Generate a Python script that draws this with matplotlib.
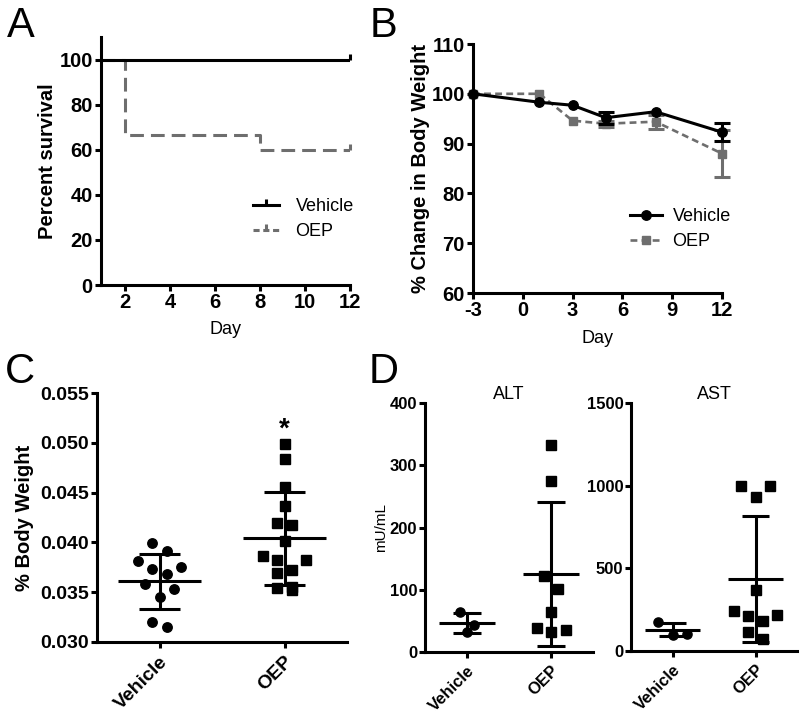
import numpy as np
import matplotlib
matplotlib.use("Agg")
import matplotlib.pyplot as plt
from matplotlib.path import Path
from matplotlib.lines import Line2D

plt.rcParams['font.family'] = ['Liberation Sans', 'DejaVu Sans']
plt.rcParams['axes.unicode_minus'] = False

# ---------------- data ----------------
# Panel A: survival (step, post)
surv_days_vehicle = [0, 12]
surv_vehicle = [100, 100]
surv_days_oep = [0, 2, 8, 12]
surv_oep = [100, 66.7, 60, 60]

# Panel B: body weight change
bw_days = [-3, 1, 3, 5, 8, 12]
bw_vehicle = [100, 98.3, 97.7, 95.2, 96.4, 92.3]
bw_vehicle_err = [0, 0.3, 0.3, 1.2, 0.4, 1.85]
bw_oep = [100, 100, 94.6, 94.0, 94.4, 88.0]
bw_oep_err = [0, 0.3, 0.4, 0.6, 1.4, 4.8]

# Panel C: % body weight
groups = ['Vehicle', 'OEP']
c_vehicle = [0.0399, 0.0391, 0.0381, 0.0375, 0.0373, 0.0368, 0.0358, 0.0353, 0.0345, 0.0320, 0.0315]
c_oep = [0.0499, 0.0484, 0.0456, 0.0437, 0.0419, 0.0417, 0.0401, 0.0386, 0.0382, 0.0382,
         0.0372, 0.0369, 0.0355, 0.0354, 0.0352]
c_mean = [0.0361, 0.0404]
c_sd = [0.00275, 0.0047]

# Panel D: ALT / AST (mU/mL)
alt_vehicle = [64, 43, 32]
alt_oep = [333, 275, 122, 101, 64, 39, 36, 32]
alt_mean = [46.6, 125.0]
alt_sd = [15.5, 116.0]
ast_vehicle = [175, 105, 95]
ast_oep = [999, 999, 929, 370, 243, 219, 209, 179, 113, 74]
ast_mean = [128.0, 434.0]
ast_sd = [40.0, 380.0]

# ---------------- styling ----------------
W, H = 800, 721
GREY = '#6e6e6e'
LW = 2.2
fig = plt.figure(figsize=(W / 100, H / 100), dpi=100)


def add_ax(left, top, right, bottom):
    return fig.add_axes([left / W, 1 - bottom / H, (right - left) / W, (bottom - top) / H])


def style(ax, fs):
    for s in ['top', 'right']:
        ax.spines[s].set_visible(False)
    for s in ['left', 'bottom']:
        ax.spines[s].set_linewidth(LW)
        ax.spines[s].set_capstyle('projecting')
    ax.tick_params(width=LW, length=4, labelsize=fs, pad=2)
    for lab in ax.get_xticklabels() + ax.get_yticklabels():
        lab.set_fontweight('bold')


def ylabel_px(ax, text, right_px, fs, weight='bold'):
    ax.set_ylabel(text, fontsize=fs, fontweight=weight)
    pos = ax.get_position()
    l = pos.x0 * W
    w = pos.width * W
    ax.yaxis.set_label_coords((right_px - l) / w, 0.5)


def xlabel_px(ax, text, top_px, fs):
    ax.set_xlabel(text, fontsize=fs)
    pos = ax.get_position()
    b = (1 - pos.y0) * H
    h = pos.height * H
    ax.xaxis.set_label_coords(0.5, (b - top_px) / h)


def swarm(values, ax, thresh_px=14, spacing_px=14.5):
    values = np.asarray(values, dtype=float)
    pos = ax.get_position()
    w_px = pos.width * W
    h_px = pos.height * H
    x0, x1 = ax.get_xlim()
    y0, y1 = ax.get_ylim()
    ypx = h_px / (y1 - y0)
    xunit = (x1 - x0) / w_px
    order = np.argsort(-values, kind='stable')
    rows, cur = [], []
    for i in order:
        if cur and (values[cur[0]] - values[i]) * ypx > thresh_px:
            rows.append(cur)
            cur = []
        cur.append(i)
    rows.append(cur)
    offs = np.zeros(len(values))
    for row in rows:
        n = len(row)
        slots = [(k - (n - 1) / 2) * spacing_px for k in range(n)]
        slots = sorted(slots, key=lambda s: (-abs(s), s))
        for idx, s in zip(row, slots):
            offs[idx] = s * xunit
    return offs


def dot_panel(ax, data, means, sds, msize, tick_fs):
    ax.set_xlim(-0.5, 1.5)
    markers = ['o', 's']
    for k, vals in enumerate(data):
        ax.vlines(k, means[k] - sds[k], means[k] + sds[k], color='black', lw=LW, zorder=3)
        ax.hlines([means[k] - sds[k], means[k] + sds[k]], k - 0.165, k + 0.165,
                  color='black', lw=LW, zorder=3)
        ax.hlines(means[k], k - 0.33, k + 0.33, color='black', lw=LW, zorder=3)
    for k, vals in enumerate(data):
        offs = swarm(vals, ax)
        ax.plot(k + offs, vals, linestyle='none', marker=markers[k], ms=msize,
                color='black', zorder=4, clip_on=False)
    ax.set_xticks(range(len(groups)))
    ax.set_xticklabels(groups, rotation=45, ha='right', rotation_mode='anchor',
                       fontsize=tick_fs, fontweight='bold')


# ---------------- Panel A ----------------
axA = add_ax(101, 37, 350, 285)
axA.set_xlim(0.93, 12)
axA.set_ylim(0, 110)
censor = Path([(0, 0), (0, 1)], [Path.MOVETO, Path.LINETO])
axA.step(surv_days_oep, surv_oep, where='post', color=GREY, lw=LW, dashes=(4.5, 2.3),
         zorder=2, clip_on=True)
axA.step(surv_days_vehicle, surv_vehicle, where='post', color='black', lw=LW, zorder=3)
axA.plot(surv_days_oep[-1], surv_oep[-1], marker=censor, ms=8, mew=LW, color=GREY,
         linestyle='none', clip_on=False, zorder=3)
axA.plot(surv_days_vehicle[-1], surv_vehicle[-1], marker=censor, ms=8, mew=LW, color='black',
         linestyle='none', clip_on=False, zorder=4)
axA.set_xticks([2, 4, 6, 8, 10, 12])
axA.set_yticks([0, 20, 40, 60, 80, 100])
style(axA, 14.5)
ylabel_px(axA, 'Percent survival', 57, 14.5)
xlabel_px(axA, 'Day', 321, 13)
hA = [Line2D([], [], color='black', lw=LW, marker=censor, ms=8, mew=LW),
      Line2D([], [], color=GREY, lw=LW, dashes=(2.0, 1.2), marker=censor, ms=8, mew=LW)]
fig.legend(hA, ['Vehicle', 'OEP'], loc='center left', bbox_to_anchor=(253 / W, 1 - 219 / H),
           frameon=False, fontsize=13, handlelength=1.45, handletextpad=0.9,
           borderpad=0, borderaxespad=0, labelspacing=0.45, numpoints=1)

# ---------------- Panel B ----------------
axB = add_ax(473, 44, 722, 293)
axB.set_xlim(-3, 12)
axB.set_ylim(60, 110)
bd = np.asarray(bw_days, dtype=float)
ve = np.asarray(bw_vehicle_err)
oe = np.asarray(bw_oep_err)
mo = oe > 0.5
axB.errorbar(bd[mo], np.asarray(bw_oep)[mo], yerr=oe[mo], fmt='none', ecolor=GREY,
             elinewidth=LW, capsize=6, capthick=LW, zorder=2, clip_on=False)
lo, = axB.plot(bw_days, bw_oep, color=GREY, lw=1.9, dashes=(2.6, 1.6), marker='s', ms=6.2,
               zorder=3, clip_on=False)
mv = ve > 0.5
axB.errorbar(bd[mv], np.asarray(bw_vehicle)[mv], yerr=ve[mv], fmt='none', ecolor='black',
             elinewidth=LW, capsize=6, capthick=LW, zorder=4, clip_on=False)
lv, = axB.plot(bw_days, bw_vehicle, color='black', lw=LW, marker='o', ms=6.8,
               zorder=5, clip_on=False)
axB.set_xticks([-3, 0, 3, 6, 9, 12])
axB.set_yticks([60, 70, 80, 90, 100, 110])
style(axB, 14.5)
ylabel_px(axB, '% Change in Body Weight', 430, 14.5)
xlabel_px(axB, 'Day', 330, 13)
fig.legend([lv, lo], ['Vehicle', 'OEP'], loc='center left', bbox_to_anchor=(630 / W, 1 - 229 / H),
           frameon=False, fontsize=13, handlelength=1.75, handletextpad=0.6,
           borderpad=0, borderaxespad=0, labelspacing=0.45, numpoints=1)

# ---------------- Panel C ----------------
axC = add_ax(97, 393, 347, 642)
axC.set_ylim(0.030, 0.055)
dot_panel(axC, [c_vehicle, c_oep], c_mean, c_sd, 6.8, 14)
axC.set_yticks([0.030, 0.035, 0.040, 0.045, 0.050, 0.055])
axC.set_yticklabels([f'{v:.3f}' for v in [0.030, 0.035, 0.040, 0.045, 0.050, 0.055]])
style(axC, 14)
axC.tick_params(axis='x', pad=4)
ylabel_px(axC, '% Body Weight', 34, 14.5)
axC.text(1, c_mean[1] + c_sd[1] + 0.0062, '*', ha='center', va='center', fontsize=20,
         fontweight='bold')

# ---------------- Panel D ----------------
axALT = add_ax(425, 403, 593, 652)
axALT.set_ylim(0, 400)
dot_panel(axALT, [alt_vehicle, alt_oep], alt_mean, alt_sd, 6.6, 12.5)
axALT.set_yticks([0, 100, 200, 300, 400])
style(axALT, 12)
axALT.tick_params(axis='y', pad=1.5)
axALT.tick_params(axis='x', pad=4)
axALT.set_title('ALT', fontsize=13, pad=1)
ylabel_px(axALT, 'mU/mL', 388, 11, weight='normal')

axAST = add_ax(631, 403, 797, 651)
axAST.set_ylim(0, 1500)
dot_panel(axAST, [ast_vehicle, ast_oep], ast_mean, ast_sd, 6.6, 12.5)
axAST.set_yticks([0, 500, 1000, 1500])
style(axAST, 12)
axAST.tick_params(axis='y', pad=1.5)
axAST.tick_params(axis='x', pad=4)
axAST.set_title('AST', fontsize=13, pad=1)

# panel letters
for letter, x, y in [('A', 7, 37), ('B', 370, 37), ('C', 5, 383), ('D', 369, 383)]:
    fig.text(x / W, 1 - y / H, letter, fontsize=30, ha='left', va='baseline')

fig.savefig('out.png', dpi=100)
